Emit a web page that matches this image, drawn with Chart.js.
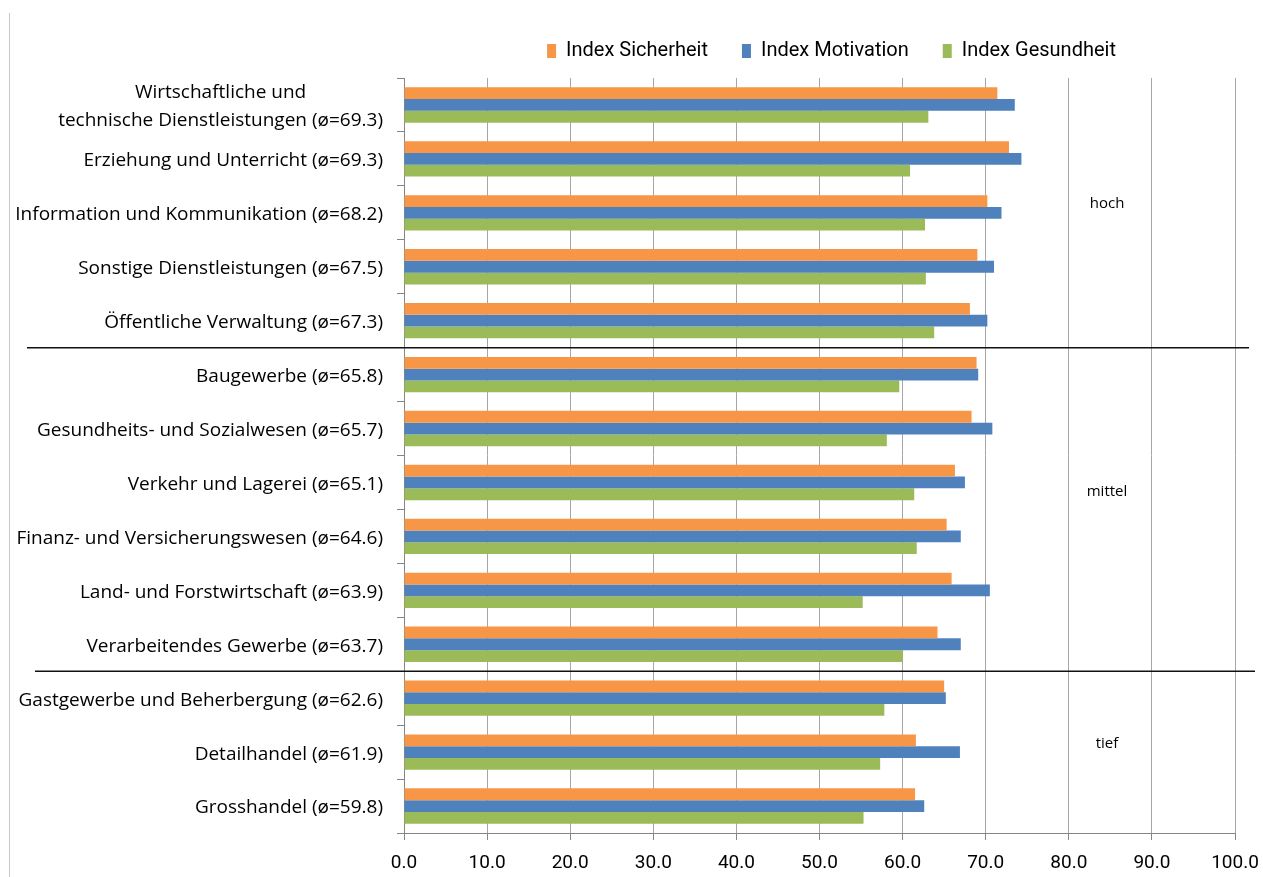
<!DOCTYPE html>
<html>
<head>
<meta charset="utf-8">
<script src="https://cdn.jsdelivr.net/npm/chart.js@4/dist/chart.umd.min.js"></script>
<style>
  html, body { margin: 0; background: #fff; }
</style>
</head>
<body>
<canvas id="chart" width="1263" height="877"></canvas>
<script>
const categories = [
  ["Wirtschaftliche und", "technische Dienstleistungen (ø=69.3)"],
  "Erziehung und Unterricht (ø=69.3)",
  "Information und Kommunikation (ø=68.2)",
  "Sonstige Dienstleistungen (ø=67.5)",
  "Öffentliche Verwaltung (ø=67.3)",
  "Baugewerbe (ø=65.8)",
  "Gesundheits- und Sozialwesen (ø=65.7)",
  "Verkehr und Lagerei (ø=65.1)",
  "Finanz- und Versicherungswesen (ø=64.6)",
  "Land- und Forstwirtschaft (ø=63.9)",
  "Verarbeitendes Gewerbe (ø=63.7)",
  "Gastgewerbe und Beherbergung (ø=62.6)",
  "Detailhandel (ø=61.9)",
  "Grosshandel (ø=59.8)"
];
const seriesNames = ["Index Sicherheit", "Index Motivation", "Index Gesundheit"];
const sicherheit = [71.4, 72.8, 70.2, 69.0, 68.1, 68.9, 68.3, 66.3, 65.3, 65.9, 64.2, 65.0, 61.6, 61.5];
const motivation = [73.5, 74.3, 71.9, 71.0, 70.2, 69.1, 70.8, 67.5, 67.0, 70.5, 67.0, 65.2, 66.9, 62.6];
const gesundheit = [63.1, 60.9, 62.7, 62.8, 63.8, 59.6, 58.1, 61.4, 61.7, 55.2, 60.0, 57.8, 57.3, 55.3];

// groups: label, position (category index) and the boundary below the group
const groupNames = ["hoch", "mittel", "tief"];
const groupPos = [1.83, 7.17, 11.85];
const groupBreaks = [4.5, 10.5];

const colors = ["#F79646", "#4F81BD", "#9BBB59"];

// legend: keep the chart area top fixed and move the legend over the plot
const legendPlace = {
  id: 'legendPlace',
  beforeInit(chart) {
    const legend = chart.legend;
    const fit = legend.fit;
    legend.fit = function () {
      fit.call(this);
      this.height = 78;
    };
  },
  afterLayout(chart) {
    const legend = chart.legend;
    legend.left += 214;
    legend.right += 214;
    legend.top += 7;
    legend.bottom += 7;
  }
};

// category labels, multi-line label centred on its longest line
const yLabels = {
  id: 'yLabels',
  afterDraw(chart) {
    const ctx = chart.ctx;
    const y = chart.scales.y;
    ctx.save();
    ctx.font = '19px "Open Sans"';
    ctx.fillStyle = '#000';
    ctx.textBaseline = 'middle';
    ctx.textAlign = 'center';
    categories.forEach((c, i) => {
      const lines = Array.isArray(c) ? c : [c];
      const w = Math.max(...lines.map(l => ctx.measureText(l).width));
      const cx = 383 - w / 2;
      const cy = y.getPixelForValue(i) + 2;
      lines.forEach((l, k) => {
        ctx.fillText(l, cx, cy + (k - (lines.length - 1) / 2) * 28);
      });
    });
    ctx.restore();
  }
};

// separator lines, group names and the outer border
const groups = {
  id: 'groups',
  afterDraw(chart) {
    const ctx = chart.ctx;
    const x = chart.scales.x;
    const y = chart.scales.y;
    ctx.save();
    ctx.strokeStyle = '#c8c8c8';
    ctx.lineWidth = 1;
    ctx.beginPath();
    ctx.moveTo(9.5, 13);
    ctx.lineTo(9.5, 877);
    ctx.stroke();

    ctx.strokeStyle = '#111';
    ctx.lineWidth = 1.5;
    groupBreaks.forEach((b, i) => {
      const py = y.getPixelForValue(b);
      ctx.beginPath();
      ctx.moveTo(i === 0 ? 27 : 35, py);
      ctx.lineTo(i === 0 ? 1249 : 1255, py);
      ctx.stroke();
    });

    ctx.font = '15px "Open Sans"';
    ctx.fillStyle = '#000';
    ctx.textAlign = 'center';
    ctx.textBaseline = 'middle';
    groupNames.forEach((g, i) => {
      ctx.fillText(g, x.getPixelForValue(84.6), y.getPixelForValue(groupPos[i]));
    });
    ctx.restore();
  }
};

new Chart(document.getElementById('chart'), {
  type: 'bar',
  data: {
    labels: categories,
    datasets: [
      { label: seriesNames[0], data: sicherheit, backgroundColor: colors[0] },
      { label: seriesNames[1], data: motivation, backgroundColor: colors[1] },
      { label: seriesNames[2], data: gesundheit, backgroundColor: colors[2] }
    ]
  },
  options: {
    indexAxis: 'y',
    responsive: false,
    animation: false,
    layout: { padding: { left: 0, right: 28, top: 0, bottom: 0 } },
    datasets: {
      bar: { categoryPercentage: 0.656, barPercentage: 1.0, borderWidth: 0 }
    },
    plugins: {
      tooltip: { enabled: false },
      legend: {
        position: 'top',
        align: 'center',
        labels: {
          boxWidth: 9,
          boxHeight: 14,
          padding: 34,
          color: '#000',
          font: { family: 'Roboto', size: 20 }
        }
      }
    },
    scales: {
      x: {
        min: 0,
        max: 100,
        ticks: {
          stepSize: 10,
          padding: 12,
          color: '#000',
          font: { family: 'Roboto', size: 19 },
          callback: v => v.toFixed(1)
        },
        grid: { color: '#a6a6a6', tickLength: 7, tickColor: '#868686' },
        border: { color: '#868686' },
        afterFit: s => { s.height = 44; s.paddingLeft = 0; s.paddingRight = 0; }
      },
      y: {
        ticks: { display: false },
        grid: { drawOnChartArea: false, tickLength: 7, color: '#868686' },
        border: { color: '#868686' },
        afterFit: s => { s.width = 404; }
      }
    }
  },
  plugins: [legendPlace, yLabels, groups]
});
</script>
</body>
</html>
